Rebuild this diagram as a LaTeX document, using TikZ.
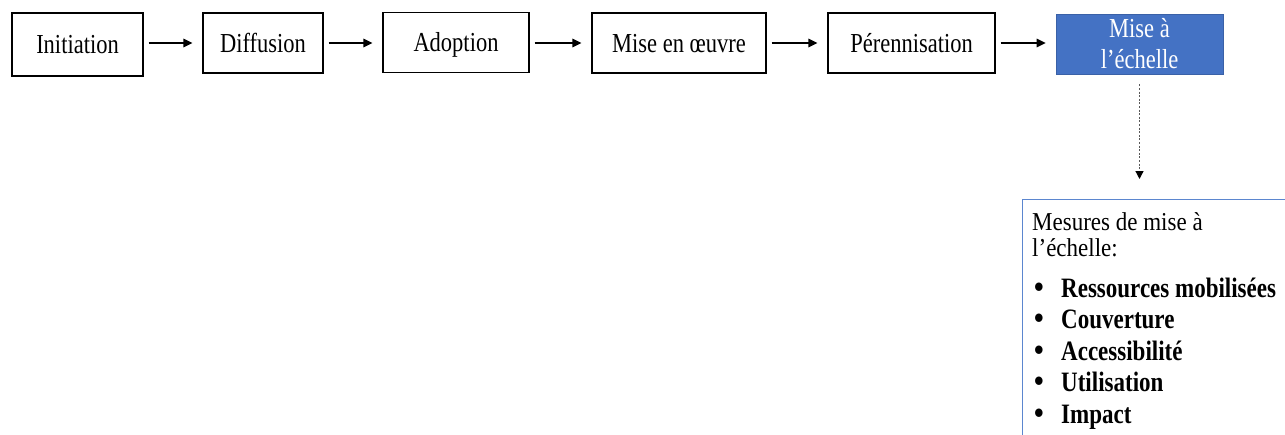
\documentclass[tikz,border=0pt]{standalone}
\usepackage{fontspec}
\setmainfont{Liberation Serif}
\usetikzlibrary{arrows.meta}

\definecolor{officeblue}{HTML}{4472C4}
\definecolor{lineblue}{HTML}{5B86CF}

% slightly elongated lettering
\newcommand\tallx[1]{\scalebox{1}[1.22]{#1}}
\newcommand\bulletmark{\scalebox{1.2}[1.35]{\textbf{\textbullet}}}

\begin{document}
\begin{tikzpicture}[x=1pt, y=-1pt,
  stagebox/.style={draw=black, line width=1.1pt, fill=white, inner sep=0pt,
    font=\fontsize{22.5}{27}\selectfont, minimum height=60pt,
    text height=22pt, text depth=4pt},
  scalebox/.style={draw=officeblue!85!black, line width=0.8pt, fill=officeblue,
    text=white, inner sep=0pt, align=center,
    font=\fontsize{22.5}{31}\selectfont, minimum width=167pt, minimum height=60pt},
  measbox/.style={draw=lineblue, line width=1.1pt, inner sep=0pt,
    minimum width=300pt, minimum height=260pt, anchor=north west},
  measline/.style={anchor=base west, inner sep=0pt, font=\fontsize{23}{26}\selectfont},
  flow/.style={line width=1.5pt, -{Triangle[length=9pt, width=8.5pt]},
    shorten <=5pt, shorten >=10pt},
  dotflow/.style={line width=1.3pt, dash pattern=on 2pt off 1.6pt, black!65,
    -{Triangle[length=8pt, width=8pt, color=black]}}
]
\useasboundingbox (0,0) rectangle (1285,434);

% stages of the process
\node[stagebox, minimum width=131pt, minimum height=63pt] (init) at (77.5,44.5) {\tallx{Initiation}};
\node[stagebox, minimum width=120pt] (diff) at (263,43) {\tallx{Diffusion}};
\node[stagebox, minimum width=146pt] (adop) at (456,42.5) {\tallx{Adoption}};
\node[stagebox, minimum width=174pt] (impl) at (679,43) {\tallx{Mise en œuvre}};
\node[stagebox, minimum width=167pt] (pere) at (911.5,43) {\tallx{Pérennisation}};
\node[scalebox] (scale) at (1139.5,44) {\tallx{Mise à}\\\tallx{l’échelle}};

\draw[flow] (init.east |- diff.east) -- (diff);
\draw[flow] (diff) -- (adop.west |- diff.east);
\draw[flow] (adop.east |- impl.west) -- (impl);
\draw[flow] (impl) -- (pere);
\draw[flow] (pere) -- (scale.west |- pere.east);

% measurement box
\node[measbox] (mes) at (1022,199) {};
\draw[dotflow, shorten <=10pt, shorten >=20pt] (scale.south) -- (scale.south |- mes.north);

\node[measline, anchor=north west, align=left] (mhead) at (1032,212)
  {\scalebox{1}[1.12]{Mesures de mise à}\\\scalebox{1}[1.12]{l’échelle:}};
\foreach \name/\y/\txt in {m3/297/Ressources mobilisées, m4/328.5/Couverture,
    m5/360/Accessibilité, m6/391.5/Utilisation, m7/423/Impact}{
  \node[measline] (\name) at (1034,\y)
    {\makebox[27pt][l]{\bulletmark}\tallx{\textbf{\txt}}};
}
\end{tikzpicture}
\end{document}
